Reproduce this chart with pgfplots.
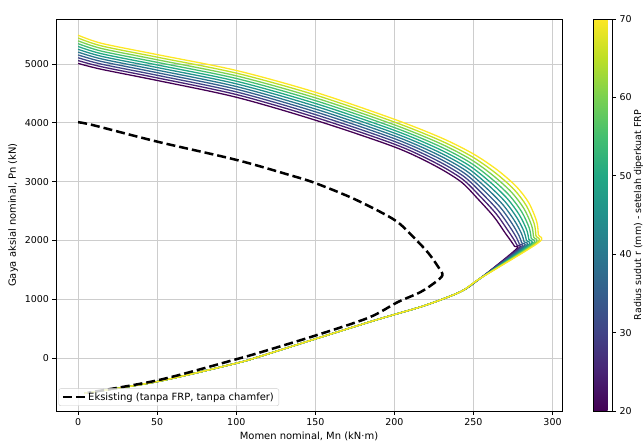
\documentclass[border=0pt]{standalone}
\usepackage{pgfplots}
\pgfplotsset{compat=1.18}
\usepackage{fontspec}
\setmainfont{DejaVu Sans}

\definecolor{gridgray}{RGB}{205,205,205}
\definecolor{legedge}{RGB}{204,204,204}
\definecolor{v20}{RGB}{68,1,84}
\definecolor{v25}{RGB}{72,36,117}
\definecolor{v30}{RGB}{65,68,135}
\definecolor{v35}{RGB}{53,95,141}
\definecolor{v40}{RGB}{42,120,142}
\definecolor{v45}{RGB}{33,145,140}
\definecolor{v50}{RGB}{34,168,132}
\definecolor{v55}{RGB}{68,191,112}
\definecolor{v60}{RGB}{122,209,81}
\definecolor{v65}{RGB}{189,223,38}
\definecolor{v70}{RGB}{253,231,37}

\newcommand{\lbl}{\fontsize{10}{12}\selectfont}
\newcommand{\tck}{\fontsize{9.5}{11}\selectfont}

\begin{document}
\begin{tikzpicture}
\useasboundingbox (0,0) rectangle (643bp,441bp);
\begin{axis}[
    at={(56bp,30bp)}, anchor=south west,
    scale only axis, width=506bp, height=392bp,
    xmin=-14, xmax=306, ymin=-900, ymax=5765,
    xtick={0,50,...,300}, ytick={0,1000,...,5000},
    xtick pos=lower, ytick pos=left,
    tick align=outside, major tick length=3.5bp,
    tick style={black, line width=0.8bp},
    axis line style={line width=0.8bp},
    grid=major, grid style={gridgray, line width=0.8bp},
    scaled y ticks=false,
    /pgf/number format/assume math mode=true,
    /pgf/number format/1000 sep={},
    tick label style={font=\tck},
    label style={font=\lbl},
    xlabel={Momen nominal, Mn (kN·m)},
    ylabel={Gaya aksial nominal, Pn (kN)},
    colormap={viridis}{rgb255=(68,1,84) rgb255=(72,36,117) rgb255=(65,68,135)
      rgb255=(53,95,141) rgb255=(42,120,142) rgb255=(33,145,140) rgb255=(34,168,132)
      rgb255=(68,191,112) rgb255=(122,209,81) rgb255=(189,223,38) rgb255=(253,231,37)},
    colorbar, point meta min=20, point meta max=70,
    colorbar style={
        at={(parent axis.north east)}, anchor=north west, xshift=23bp,
        width=19bp,
        ytick={20,30,...,70},
        ytick pos=right, yticklabel pos=right,
        /pgf/number format/assume math mode=true,
        tick align=outside, major tick length=3.5bp,
        tick style={black, line width=0.8bp},
        axis line style={line width=0.8bp},
        yticklabel style={font=\tck},
        ylabel={Radius sudut r (mm) - setelah diperkuat FRP},
        every axis y label/.style={at={(rel axis cs:1,0.5)}, xshift=18bp,
            anchor=north, rotate=90, font=\fontsize{9.5}{11}\selectfont},
    },
    legend style={at={(0.005,0.013)}, anchor=south west, font=\lbl,
        draw=legedge, fill=white, fill opacity=0.8, text opacity=1,
        rounded corners=2bp, inner xsep=3bp, inner ysep=2bp},
    legend cell align=left,
    legend image code/.code={\draw[#1, smooth] (0bp,0bp) -- (22bp,0bp);},
]

\addplot[v20, line width=1.3bp, smooth, tension=0.5, forget plot] coordinates {(0,5010) (15,4908) (50,4720) (100,4435) (150,4045) (200,3590) (225,3280) (242,3000) (253,2700) (263,2400) (270,2130) (274,1980) (276,1900) (277,1850)
  (254,1350) (242,1130) (220,900) (200,740) (185,620) (151,334) (115,28) (100,-88) (50,-400) (4,-600)};
\addplot[v25, line width=1.3bp, smooth, tension=0.5, forget plot] coordinates {(0,5058) (15,4952) (50,4764) (100,4481) (150,4093) (200,3637) (225.5,3326) (242.8,3047) (254.2,2750) (264.4,2452) (271.5,2181) (275.6,2014) (277.5,1920) (278.4,1861)
  (254,1350) (242,1130) (220,900) (200,740) (185,620) (151,334) (115,28) (100,-88) (50,-400) (4,-600)};
\addplot[v30, line width=1.3bp, smooth, tension=0.5, forget plot] coordinates {(0,5106) (15,4996) (50,4808) (100,4526) (150,4140) (200,3684) (226,3372) (243.6,3094) (255.4,2800) (265.8,2504) (273,2232) (277.2,2048) (279,1940) (279.8,1872)
  (254,1350) (242,1130) (220,900) (200,740) (185,620) (151,334) (115,28) (100,-88) (50,-400) (4,-600)};
\addplot[v35, line width=1.3bp, smooth, tension=0.5, forget plot] coordinates {(0,5154) (15,5041) (50,4852) (100,4572) (150,4188) (200,3731) (226.5,3418) (244.4,3141) (256.6,2850) (267.2,2556) (274.5,2283) (278.8,2082) (280.5,1960) (281.2,1883)
  (254,1350) (242,1130) (220,900) (200,740) (185,620) (151,334) (115,28) (100,-88) (50,-400) (4,-600)};
\addplot[v40, line width=1.3bp, smooth, tension=0.5, forget plot] coordinates {(0,5202) (15,5085) (50,4896) (100,4617) (150,4235) (200,3778) (227,3464) (245.2,3188) (257.8,2900) (268.6,2608) (276,2334) (280.4,2116) (282,1980) (282.6,1894)
  (254,1350) (242,1130) (220,900) (200,740) (185,620) (151,334) (115,28) (100,-88) (50,-400) (4,-600)};
\addplot[v45, line width=1.3bp, smooth, tension=0.5, forget plot] coordinates {(0,5250) (15,5129) (50,4940) (100,4663) (150,4283) (200,3825) (227.5,3510) (246,3235) (259,2950) (270,2660) (277.5,2385) (282,2150) (283.5,2000) (284,1905)
  (254,1350) (242,1130) (220,900) (200,740) (185,620) (151,334) (115,28) (100,-88) (50,-400) (4,-600)};
\addplot[v50, line width=1.3bp, smooth, tension=0.5, forget plot] coordinates {(0,5298) (15,5173) (50,4984) (100,4708) (150,4330) (200,3872) (228,3556) (246.8,3282) (260.2,3000) (271.4,2712) (279,2436) (283.6,2184) (285,2020) (285.4,1916)
  (254,1350) (242,1130) (220,900) (200,740) (185,620) (151,334) (115,28) (100,-88) (50,-400) (4,-600)};
\addplot[v55, line width=1.3bp, smooth, tension=0.5, forget plot] coordinates {(0,5346) (15,5217) (50,5028) (100,4754) (150,4378) (200,3919) (228.5,3602) (247.6,3329) (261.4,3050) (272.8,2764) (280.5,2487) (285.2,2218) (286.5,2040) (286.8,1927)
  (254,1350) (242,1130) (220,900) (200,740) (185,620) (151,334) (115,28) (100,-88) (50,-400) (4,-600)};
\addplot[v60, line width=1.3bp, smooth, tension=0.5, forget plot] coordinates {(0,5394) (15,5262) (50,5072) (100,4799) (150,4425) (200,3966) (229,3648) (248.4,3376) (262.6,3100) (274.2,2816) (282,2538) (286.8,2252) (288,2060) (288.2,1938)
  (254,1350) (242,1130) (220,900) (200,740) (185,620) (151,334) (115,28) (100,-88) (50,-400) (4,-600)};
\addplot[v65, line width=1.3bp, smooth, tension=0.5, forget plot] coordinates {(0,5442) (15,5306) (50,5116) (100,4845) (150,4473) (200,4013) (229.5,3694) (249.2,3423) (263.8,3150) (275.6,2868) (283.5,2589) (288.4,2286) (289.5,2080) (289.6,1949)
  (254,1350) (242,1130) (220,900) (200,740) (185,620) (151,334) (115,28) (100,-88) (50,-400) (4,-600)};
\addplot[v70, line width=1.3bp, smooth, tension=0.5, forget plot] coordinates {(0,5490) (15,5350) (50,5160) (100,4890) (150,4520) (200,4060) (230,3740) (250,3470) (265,3200) (277,2920) (285,2640) (290,2320) (291,2100) (291,1960)
  (254,1350) (242,1130) (220,900) (200,740) (185,620) (151,334) (115,28) (100,-88) (50,-400) (4,-600)};

% kolom eksisting
\addplot[black, line width=2.5bp, dash pattern=on 9bp off 4bp, line cap=butt, smooth, tension=0.5] coordinates {
  (0,4010) (9.5,3960) (50,3680) (100,3370) (134,3110) (150,2975) (175,2700) (200,2350)
  (212,2057) (221.5,1785) (227.8,1547) (230.4,1411) (226,1292) (216.5,1122) (202,950)
  (184,690) (151,391) (115,95) (100,-20) (51,-374) (6,-590)};
\addlegendentry{Eksisting (tanpa FRP, tanpa chamfer)}
\end{axis}
\end{tikzpicture}
\end{document}
